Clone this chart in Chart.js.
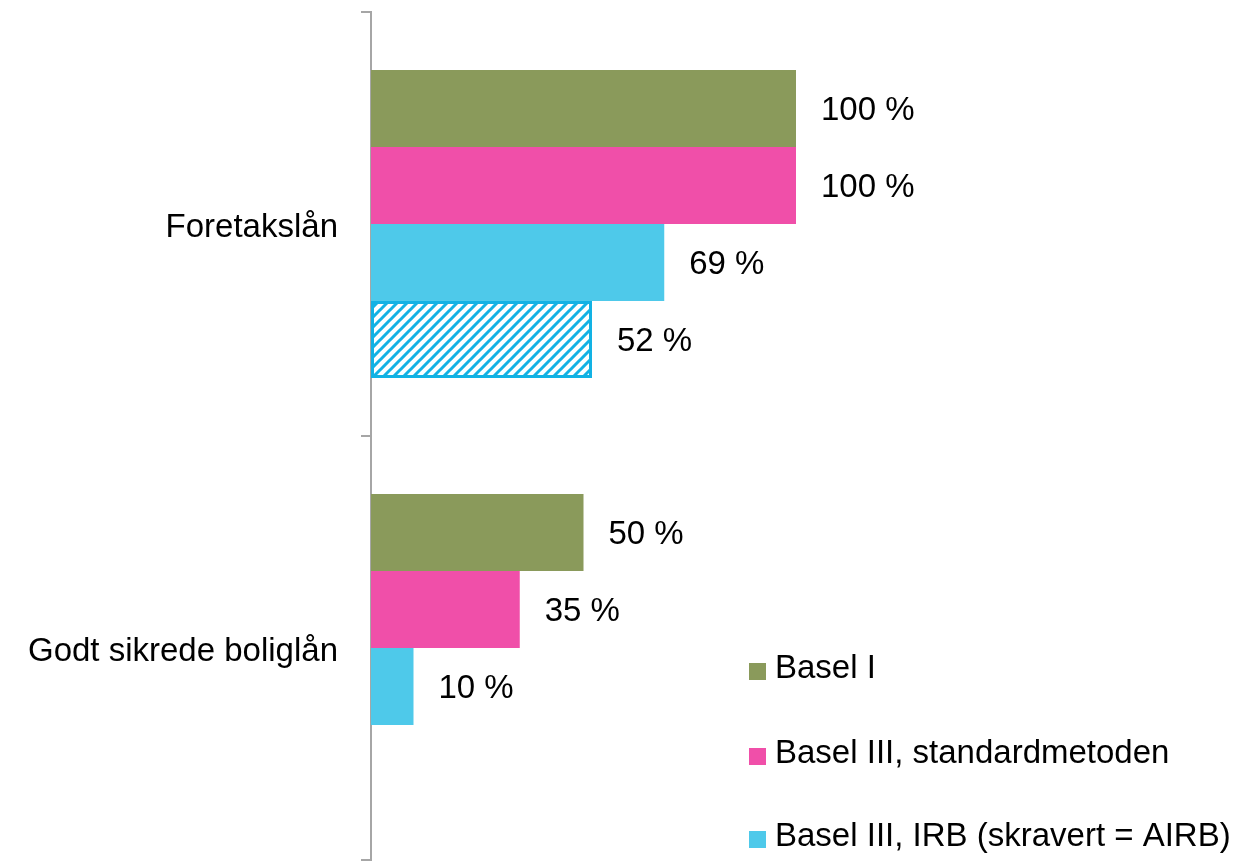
<!DOCTYPE html>
<html>
<head>
<meta charset="utf-8">
<script src="https://cdn.jsdelivr.net/npm/chart.js@4.4.0/dist/chart.umd.min.js"></script>
<style>
  html, body { margin: 0; padding: 0; background: #ffffff; }
  #wrap { width: 1259px; height: 864px; position: relative; }
</style>
</head>
<body>
<div id="wrap"><canvas id="c" width="1259" height="864"></canvas></div>
<script>
const categories = ["Foretakslån", "Godt sikrede boliglån"];
const seriesLabels = ["Basel I", "Basel III, standardmetoden", "Basel III, IRB (skravert = AIRB)", "AIRB"];
const basel1 = [100, 50];
const basel3Std = [100, 35];
const basel3Irb = [69, 10];
const basel3Airb = [52, null];
const legendShown = [0, 1, 2];

const GREEN = "#8a9a5b";
const PINK = "#f04fa9";
const CYAN = "#4ec9ea";
const CYAN_LINE = "#12b2e4";
const FONT = "'Liberation Sans', Arial, sans-serif";

function makeHatch() {
  const s = 10;
  const p = document.createElement("canvas");
  p.width = s; p.height = s;
  const g = p.getContext("2d");
  g.fillStyle = "#ffffff";
  g.fillRect(0, 0, s, s);
  g.strokeStyle = CYAN_LINE;
  g.lineWidth = 3;
  g.lineCap = "square";
  g.beginPath();
  g.moveTo(0, s); g.lineTo(s, 0);
  g.moveTo(-s / 2, s / 2); g.lineTo(s / 2, -s / 2);
  g.moveTo(s / 2, s * 1.5); g.lineTo(s * 1.5, s / 2);
  g.stroke();
  return document.getElementById("c").getContext("2d").createPattern(p, "repeat");
}

const valueLabels = {
  id: "valueLabels",
  afterDatasetsDraw(chart) {
    const ctx = chart.ctx;
    ctx.save();
    ctx.font = "33px " + FONT;
    ctx.fillStyle = "#000000";
    ctx.textAlign = "left";
    ctx.textBaseline = "middle";
    chart.data.datasets.forEach((ds, di) => {
      const meta = chart.getDatasetMeta(di);
      meta.data.forEach((el, i) => {
        const v = ds.data[i];
        if (v === null || v === undefined) return;
        ctx.fillText(v + " %", el.x + 25, el.y + 2);
      });
    });
    ctx.restore();
  }
};

const customLegend = {
  id: "customLegend",
  afterDraw(chart) {
    const ctx = chart.ctx;
    ctx.save();
    ctx.font = "33px " + FONT;
    ctx.fillStyle = "#000000";
    ctx.textAlign = "left";
    ctx.textBaseline = "middle";
    const ys = [669, 754, 837];
    legendShown.forEach((di, k) => {
      const ds = chart.data.datasets[di];
      ctx.fillStyle = ds.backgroundColor;
      ctx.fillRect(749, ys[k] - 6, 17, 17);
      ctx.fillStyle = "#000000";
      ctx.fillText(ds.label, 775, ys[k]);
    });
    ctx.restore();
  }
};

new Chart(document.getElementById("c"), {
  type: "bar",
  data: {
    labels: categories,
    datasets: [
      { label: seriesLabels[0], data: basel1, backgroundColor: GREEN, borderWidth: 0 },
      { label: seriesLabels[1], data: basel3Std, backgroundColor: PINK, borderWidth: 0 },
      { label: seriesLabels[2], data: basel3Irb, backgroundColor: CYAN, borderWidth: 0 },
      { label: seriesLabels[3], data: basel3Airb, backgroundColor: makeHatch(), borderColor: CYAN_LINE, borderWidth: 3, borderSkipped: false }
    ]
  },
  options: {
    indexAxis: "y",
    responsive: false,
    animation: false,
    events: [],
    layout: { padding: { top: 12, bottom: 4, left: 0, right: 38 } },
    datasets: { bar: { categoryPercentage: 0.727, barPercentage: 1 } },
    plugins: { legend: { display: false }, tooltip: { enabled: false } },
    scales: {
      x: { display: false, min: 0, max: 200 },
      y: {
        offset: true,
        afterFit(scale) { scale.width = 371; scale.paddingTop = 0; scale.paddingBottom = 0; },
        border: { display: true, color: "#a6a6a6", width: 2 },
        grid: { display: true, drawOnChartArea: false, drawTicks: true, tickLength: 10, color: "#a6a6a6", lineWidth: 2, offset: true },
        ticks: { color: "#000000", padding: 23, labelOffset: 4, font: { family: FONT, size: 33 } }
      }
    }
  },
  plugins: [valueLabels, customLegend]
});
</script>
</body>
</html>
